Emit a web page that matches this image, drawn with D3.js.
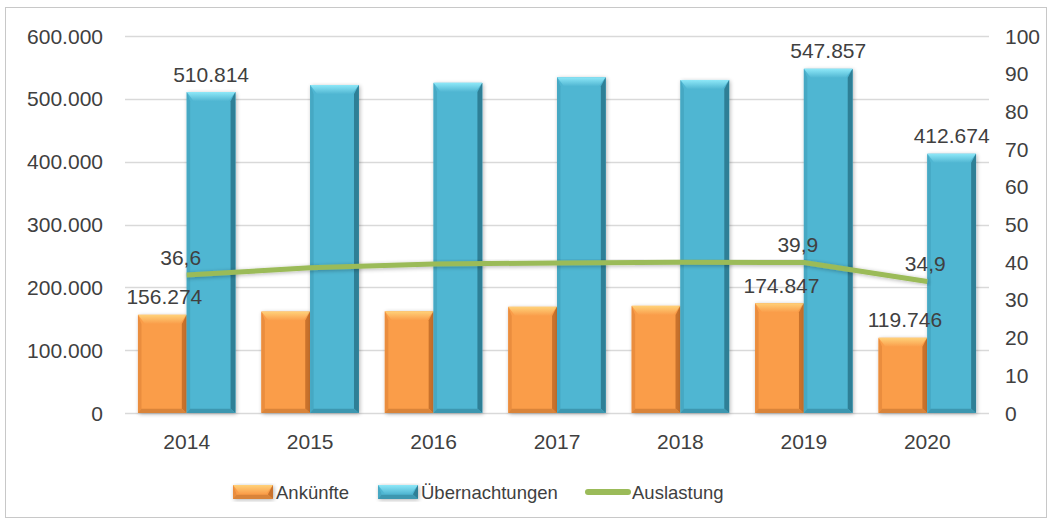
<!DOCTYPE html>
<html>
<head>
<meta charset="utf-8">
<script src="https://d3js.org/d3.v7.min.js"></script>
<style>
  body { margin: 0; background: #fff; }
  text { font-family: "Liberation Sans", Arial, sans-serif; fill: #404040; font-size: 21px; }
  .legend text { font-size: 18.5px; }
</style>
</head>
<body>
<script>
// chart data
var years = ["2014", "2015", "2016", "2017", "2018", "2019", "2020"];
var ankuenfte = [156274, 161500, 162000, 169000, 170500, 174847, 119746];
var uebernachtungen = [510814, 522000, 525500, 534500, 530000, 547857, 412674];
var auslastung = [36.6, 38.5, 39.5, 39.8, 40.0, 39.9, 34.9];
var leftTicks = [0, 100000, 200000, 300000, 400000, 500000, 600000];
var rightTicks = [0, 10, 20, 30, 40, 50, 60, 70, 80, 90, 100];
// which points get a data label
var labelYears = ["2014", "2019", "2020"];

var W = 1052, H = 522;
var plotL = 125, plotR = 989, plotT = 36, plotB = 413;

var svg = d3.select("body").append("svg")
  .attr("width", W).attr("height", H);

svg.append("rect")
  .attr("x", 5.5).attr("y", 7.5)
  .attr("width", 1041).attr("height", 510)
  .attr("fill", "#fff").attr("stroke", "#c8c8c8");

var x = d3.scaleBand().domain(years).range([plotL, plotR]).paddingInner(0.21).paddingOuter(0.105);
var xs = d3.scaleBand().domain(["a", "u"]).range([0, x.bandwidth()]);
var yL = d3.scaleLinear().domain([0, 600000]).range([plotB, plotT]);
var yR = d3.scaleLinear().domain([0, 100]).range([plotB, plotT]);
var fmt = d3.formatLocale({decimal: ",", thousands: ".", grouping: [3], currency: ["", "€"]});
var fmtInt = fmt.format(",d"), fmtDec = fmt.format(".1f");

// grid
svg.append("g").selectAll("line").data(leftTicks).join("line")
  .attr("x1", plotL).attr("x2", plotR)
  .attr("y1", d => Math.round(yL(d)) + 0.5).attr("y2", d => Math.round(yL(d)) + 0.5)
  .attr("stroke", "#d9d9d9").attr("stroke-width", 1.5);

// left axis labels
svg.append("g").selectAll("text").data(leftTicks).join("text")
  .attr("x", 103).attr("y", d => yL(d)).attr("dy", "0.36em")
  .attr("text-anchor", "end")
  .text(d => fmtInt(d));

// right axis labels
svg.append("g").selectAll("text").data(rightTicks).join("text")
  .attr("x", 1005).attr("y", d => yR(d)).attr("dy", "0.36em")
  .attr("text-anchor", "start")
  .text(d => d);

// x labels
svg.append("g").selectAll("text").data(years).join("text")
  .attr("x", d => x(d) + x.bandwidth() / 2).attr("y", 441).attr("dy", "0.36em")
  .attr("text-anchor", "middle")
  .text(d => d);

var styles = {
  a: {main: "#fa9d4a", light: "#ffd27a", dark: "#c9722c", side: "#ea8d3e", bottom: "#d9843a"},
  u: {main: "#50b6d2", light: "#8ee8f8", dark: "#2e7f96", side: "#46a8c3", bottom: "#3d97b0"}
};

var defs = svg.append("defs");
var flt = defs.append("filter").attr("id", "sh").attr("x", "-20%").attr("y", "-20%").attr("width", "140%").attr("height", "140%");
flt.append("feGaussianBlur").attr("in", "SourceAlpha").attr("stdDeviation", 2);
flt.append("feOffset").attr("dx", 1).attr("dy", 1).attr("result", "b");
flt.append("feComponentTransfer").append("feFuncA").attr("type", "linear").attr("slope", 0.3);
var fm = flt.append("feMerge");
fm.append("feMergeNode");
fm.append("feMergeNode").attr("in", "SourceGraphic");

// top highlight gradients
["a", "u"].forEach(function (k) {
  var gr = defs.append("linearGradient").attr("id", "top-" + k).attr("x1", 0).attr("x2", 0).attr("y1", 0).attr("y2", 1);
  gr.append("stop").attr("offset", "0%").attr("stop-color", styles[k].light);
  gr.append("stop").attr("offset", "100%").attr("stop-color", styles[k].main);
});

// draw a bevelled bar
function bevelBar(g, k, x0, y0, w, h) {
  var st = styles[k];
  var b = Math.min(7, w / 4, h / 2);
  var x1 = x0 + w, y1 = y0 + h;
  g.append("rect").attr("x", x0).attr("y", y0).attr("width", w).attr("height", h)
    .attr("fill", st.main).attr("filter", "url(#sh)");
  g.append("polygon").attr("points", [[x0, y0], [x1, y0], [x1 - b, y0 + b * 1.3], [x0 + b, y0 + b * 1.3]].join(" "))
    .attr("fill", "url(#top-" + k + ")");
  g.append("polygon").attr("points", [[x0, y0], [x0 + b * 0.5, y0 + b * 1.3], [x0 + b * 0.5, y1 - b * 0.6], [x0, y1]].join(" "))
    .attr("fill", st.side);
  g.append("polygon").attr("points", [[x1, y0], [x1 - b * 0.7, y0 + b * 1.3], [x1 - b * 0.7, y1 - b * 0.6], [x1, y1]].join(" "))
    .attr("fill", st.dark);
  g.append("polygon").attr("points", [[x0, y1], [x0 + b * 0.5, y1 - b * 0.6], [x1 - b * 0.7, y1 - b * 0.6], [x1, y1]].join(" "))
    .attr("fill", st.bottom);
}

var barG = svg.append("g");
years.forEach(function (yr, i) {
  var ya = yL(ankuenfte[i]), yu = yL(uebernachtungen[i]);
  bevelBar(barG, "a", x(yr) + xs("a"), ya, xs.bandwidth(), plotB - ya);
  bevelBar(barG, "u", x(yr) + xs("u"), yu, xs.bandwidth(), plotB - yu);
});

// line
var line = d3.line()
  .x((d, i) => x(years[i]) + x.bandwidth() / 2)
  .y(d => yR(d));
svg.append("path").datum(auslastung)
  .attr("d", line).attr("fill", "none")
  .attr("stroke", "#9bbb59").attr("stroke-width", 5).attr("stroke-linejoin", "round")
  .attr("filter", "url(#sh)");

// data labels
var lab = svg.append("g");
years.forEach(function (yr, i) {
  if (labelYears.indexOf(yr) < 0) return;
  var cx = x(yr) + x.bandwidth() / 2;
  lab.append("text").attr("text-anchor", "middle")
    .attr("x", x(yr) + xs("u") + xs.bandwidth() / 2)
    .attr("y", yL(uebernachtungen[i]) - 18).attr("dy", "0.36em")
    .text(fmtInt(uebernachtungen[i]));
  lab.append("text").attr("text-anchor", "middle")
    .attr("x", x(yr) + xs("a") + xs.bandwidth() / 2 + 2)
    .attr("y", yL(ankuenfte[i]) - 18).attr("dy", "0.36em")
    .text(fmtInt(ankuenfte[i]));
  lab.append("text").attr("text-anchor", "middle")
    .attr("x", cx + (i === years.length - 1 ? -2 : -6))
    .attr("y", yR(auslastung[i]) - 18).attr("dy", "0.36em")
    .text(fmtDec(auslastung[i]));
});

// legend
var legend = [
  {name: "Ankünfte", type: "a", x: 233},
  {name: "Übernachtungen", type: "u", x: 378},
  {name: "Auslastung", type: "l", x: 586}
];
var lg = svg.append("g").attr("class", "legend");
legend.forEach(function (d) {
  if (d.type === "l") {
    lg.append("line").attr("x1", d.x + 2).attr("x2", d.x + 42).attr("y1", 492).attr("y2", 492)
      .attr("stroke", "#9bbb59").attr("stroke-width", 6).attr("stroke-linecap", "round");
  } else {
    bevelBar(lg, d.type, d.x, 485, 40, 14);
  }
  lg.append("text").attr("x", d.x + (d.type === "l" ? 46 : 43)).attr("y", 492).attr("dy", "0.36em")
    .text(d.name);
});
</script>
</body>
</html>
